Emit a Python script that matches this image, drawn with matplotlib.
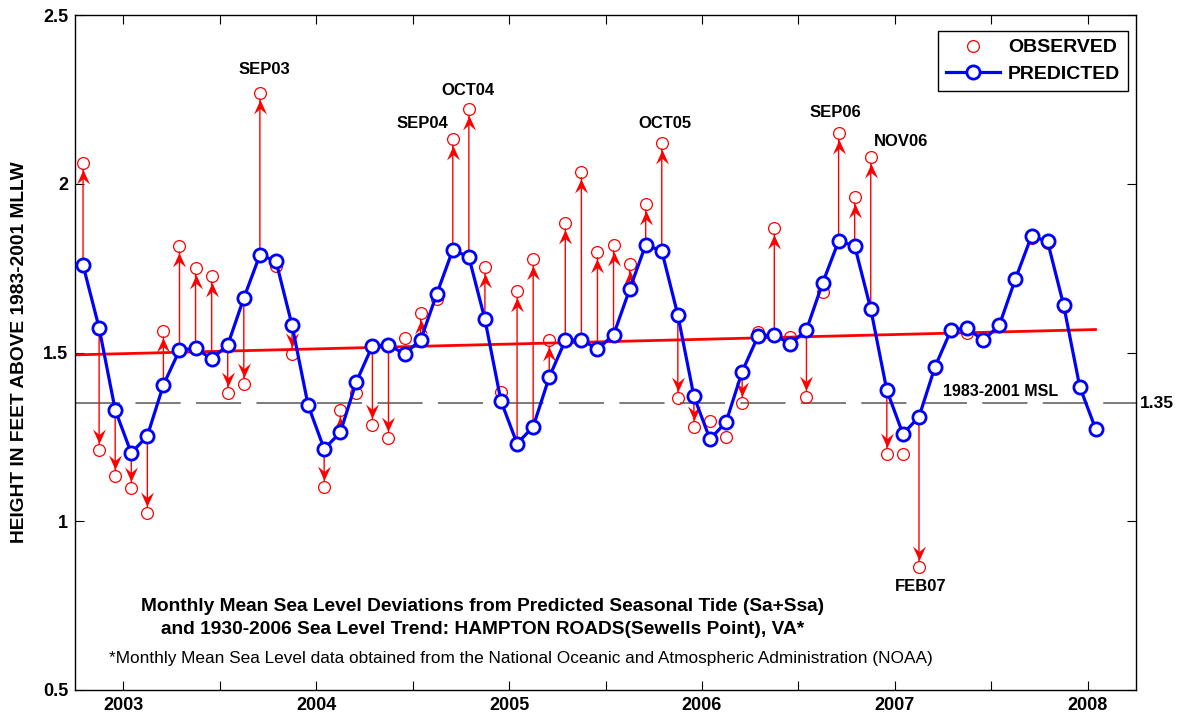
import numpy as np
import matplotlib
matplotlib.use("Agg")
import matplotlib.pyplot as plt
from matplotlib.path import Path
from matplotlib.lines import Line2D

plt.rcParams['font.family'] = ['Liberation Sans', 'DejaVu Sans']

# ---------------- data ----------------
start_year = 2002
start_month = 10          # first month shown: Oct 2002
n_months = 64             # Oct 2002 .. Jan 2008

predicted = [1.759, 1.573, 1.330, 1.202, 1.253, 1.404, 1.507, 1.513, 1.481, 1.522, 1.661, 1.789,
             1.771, 1.581, 1.344, 1.214, 1.263, 1.413, 1.520, 1.522, 1.496, 1.537, 1.673, 1.804,
             1.783, 1.598, 1.356, 1.230, 1.280, 1.427, 1.536, 1.538, 1.510, 1.552, 1.687, 1.819,
             1.801, 1.611, 1.370, 1.243, 1.294, 1.443, 1.550, 1.552, 1.525, 1.567, 1.705, 1.830,
             1.816, 1.629, 1.388, 1.259, 1.309, 1.458, 1.567, 1.572, 1.536, 1.581, 1.718, 1.845,
             1.829, 1.640, 1.399, 1.272]

observed = [2.061, 1.211, 1.134, 1.098, 1.023, 1.564, 1.816, 1.750, 1.727, 1.380, 1.407, 2.269,
            1.756, 1.496, 1.345, 1.100, 1.330, 1.380, 1.284, 1.248, 1.543, 1.617, 1.659, 2.133,
            2.221, 1.753, 1.383, 1.681, 1.776, 1.537, 1.884, 2.036, 1.799, 1.819, 1.762, 1.941,
            2.121, 1.364, 1.280, 1.296, 1.250, 1.350, 1.561, 1.869, 1.546, 1.368, 1.679, 2.150,
            1.961, 2.079, 1.199, 1.199, 0.865, 1.452, 1.563, 1.558, 1.533, 1.578, 1.714, 1.840,
            1.823, 1.636, 1.396, 1.270]

trend_years = [2002.75, 2008.04]
trend_values = [1.493, 1.568]
msl_value = 1.35
msl_label = "1983-2001 MSL"

event_labels = ["SEP03", "SEP04", "OCT04", "OCT05", "SEP06", "NOV06", "FEB07"]
event_index = [11, 23, 24, 36, 47, 49, 52]

year_ticks = [2003, 2004, 2005, 2006, 2007, 2008]
y_ticks = [0.5, 1.0, 1.5, 2.0, 2.5]

title_line1 = "Monthly Mean Sea Level Deviations from Predicted Seasonal Tide (Sa+Ssa)"
title_line2 = "and 1930-2006 Sea Level Trend: HAMPTON ROADS(Sewells Point), VA*"
footnote = "*Monthly Mean Sea Level data obtained from the National Oceanic and Atmospheric Administration (NOAA)"
ylabel = "HEIGHT IN FEET ABOVE 1983-2001 MLLW"

# ---------------- layout / style ----------------
label_offsets = {"SEP03": (3, 17), "SEP04": (-22, 11), "OCT04": (-1, 13.5), "OCT05": (2, 14),
                 "SEP06": (-2, 14.5), "NOV06": (22, 11), "FEB07": (1, -14)}

months_abs = start_month - 1 + np.arange(n_months)
x = start_year + (months_abs + 0.5) / 12.0
pred = np.array(predicted)
obs = np.array(observed)

fig = plt.figure(figsize=(11.77, 7.17), dpi=100)
ax = fig.add_axes([75 / 1177, 1 - 690 / 717, (1136 - 75) / 1177, (690 - 15) / 717])

ax.set_xlim(2002.75, 2008.25)
ax.set_ylim(0.5, 2.5)

# MSL dashed line
ax.plot([2002.75, 2008.25], [msl_value, msl_value], color='#707070', lw=1.3,
        dashes=(25, 8.5), dash_capstyle='butt', zorder=1)
ax.text(2007.55, msl_value + 0.012, msl_label, ha='center', va='bottom',
        fontsize=11.5, fontweight='bold', zorder=6)

# trend line
ax.plot(trend_years, trend_values, color='#ff0000', lw=2.0, zorder=2)

# arrows: shafts + notched heads
px = 1.0 / 0.72
up_head = Path([(0, -6.5), (-6.5, -21), (0, -15.5), (6.5, -21), (0, -6.5)],
               [Path.MOVETO, Path.LINETO, Path.LINETO, Path.LINETO, Path.CLOSEPOLY])
down_head = Path([(0, 6.5), (-6.5, 21), (0, 15.5), (6.5, 21), (0, 6.5)],
                 [Path.MOVETO, Path.LINETO, Path.LINETO, Path.LINETO, Path.CLOSEPOLY])
diff = obs - pred
show = np.abs(diff) > 0.06
for xi, p, o, s in zip(x, pred, obs, show):
    if not s:
        continue
    ax.annotate("", xy=(xi, o), xytext=(xi, p),
                arrowprops=dict(arrowstyle='-', color='#ff0000', lw=1.0,
                                shrinkA=0, shrinkB=6 / px),
                zorder=3)
up = show & (diff > 0)
dn = show & (diff < 0)
ax.plot(x[up], obs[up], ls='none', marker=up_head, ms=42 * 0.72, mfc='#ff0000',
        mec='none', mew=0, zorder=3)
ax.plot(x[dn], obs[dn], ls='none', marker=down_head, ms=42 * 0.72, mfc='#ff0000',
        mec='none', mew=0, zorder=3)

# observed
ax.plot(x, obs, ls='none', marker='o', ms=8.5, mfc='none', mec='#ff0000', mew=0.9,
        zorder=3.5, label='OBSERVED')
# predicted
ax.plot(x, pred, color='#0000ff', lw=2.3, marker='o', ms=9.5, mfc='white', mec='#0000ff',
        mew=2.0, zorder=4, label='PREDICTED')

# event labels
for lab, idx in zip(event_labels, event_index):
    dx, dy = label_offsets[lab]
    ax.annotate(lab, xy=(x[idx], obs[idx]), xytext=(dx, dy), textcoords='offset points',
                ha='center', va='center', fontsize=12, fontweight='bold', zorder=6)

# ticks
ax.set_xticks(year_ticks)
ax.set_xticklabels([str(y) for y in year_ticks])
ax.set_xticks([y + 0.5 for y in year_ticks[:-1]], minor=True)
ax.set_yticks(y_ticks)
ax.set_yticklabels(['0.5', '1', '1.5', '2', '2.5'])
ax.tick_params(which='both', direction='in', top=True, right=True, length=6.5, width=0.8,
               labelsize=13, pad=5)
for lab in ax.get_xticklabels() + ax.get_yticklabels():
    lab.set_fontweight('bold')
for sp in ax.spines.values():
    sp.set_linewidth(1.0)

ax.set_ylabel(ylabel, fontsize=13.8, fontweight='bold')
ax.yaxis.set_label_coords(-0.0443, 0.5)

# right-side MSL value
ax.text(1.004, msl_value, "1.35", transform=ax.get_yaxis_transform(), ha='left', va='center',
        fontsize=12.5, fontweight='bold')

# title texts inside axes
ax.text(0.384, 0.123, title_line1, transform=ax.transAxes, ha='center', va='center',
        fontsize=13.8, fontweight='bold')
ax.text(0.384, 0.089, title_line2, transform=ax.transAxes, ha='center', va='center',
        fontsize=13.8, fontweight='bold')
ax.text(0.420, 0.047, footnote, transform=ax.transAxes, ha='center', va='center',
        fontsize=12.4)

# legend
handles = [Line2D([], [], ls='none', marker='o', ms=8.5, mfc='none', mec='#ff0000', mew=0.9),
           Line2D([], [], color='#0000ff', lw=2.3, marker='o', ms=9.5, mfc='white',
                  mec='#0000ff', mew=2.0)]
leg = ax.legend(handles, ['OBSERVED', 'PREDICTED'], loc='upper right',
                bbox_to_anchor=((1128 - 75) / 1061, (690 - 31) / 675),
                prop={'weight': 'bold', 'size': 14}, frameon=True, fancybox=False,
                edgecolor='black', framealpha=1, handlelength=2.8, handletextpad=0.4,
                labelspacing=0.45, borderpad=0.4, borderaxespad=0.0)
leg.get_frame().set_linewidth(1.0)

fig.savefig("out.png", dpi=100)
